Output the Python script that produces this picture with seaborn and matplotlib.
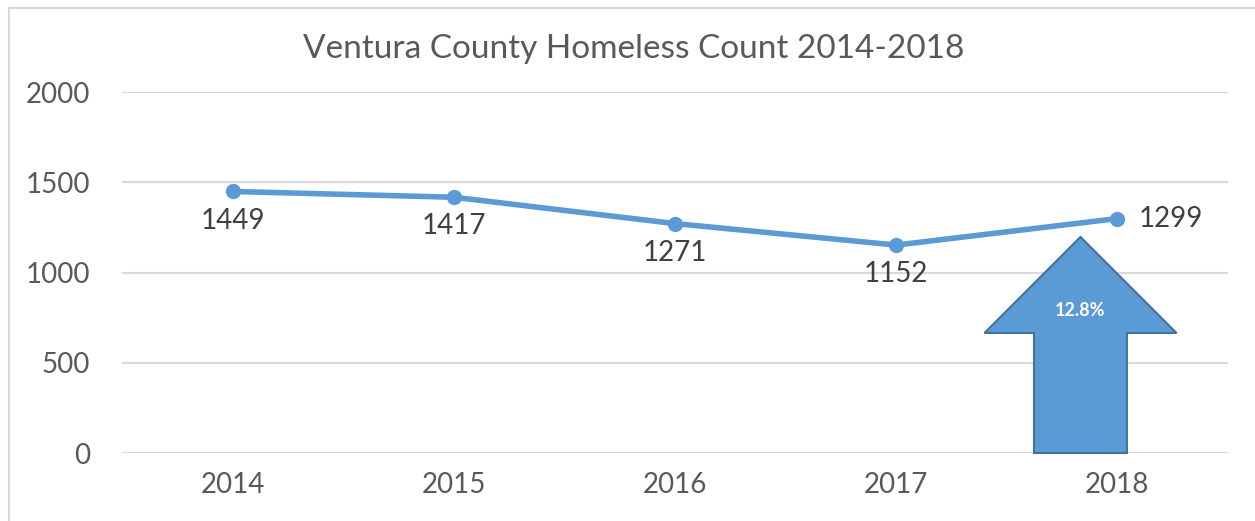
import matplotlib
matplotlib.use("Agg")
import matplotlib.pyplot as plt
from matplotlib.patches import Polygon
import seaborn as sns
import pandas as pd

# data
years = ["2014", "2015", "2016", "2017", "2018"]
counts = [1449, 1417, 1271, 1152, 1299]
change_label = "12.8%"
title = "Ventura County Homeless Count 2014-2018"

df = pd.DataFrame({"year": years, "count": counts})

sns.set_style("white")
plt.rcParams["font.family"] = ["Lato", "DejaVu Sans"]

blue = "#5B9BD5"
fig = plt.figure(figsize=(12.55, 5.21), dpi=100)
ax = fig.add_axes([0.0972, 0.1305, 0.8813, 0.6929])

sns.lineplot(data=df, x="year", y="count", ax=ax, color=blue, lw=4,
             marker="o", markersize=11, markeredgewidth=0, sort=False)

ax.set_xlim(-0.5, 4.5)
ax.set_ylim(0, 2000)
ax.set_yticks([0, 500, 1000, 1500, 2000])
ax.yaxis.grid(True, color="#D9D9D9", lw=1.5)
ax.set_axisbelow(True)
for s in ax.spines.values():
    s.set_visible(False)
ax.tick_params(axis="both", length=0, labelsize=20, labelcolor="#595959")
ax.tick_params(axis="y", pad=23)
ax.tick_params(axis="x", pad=14)
ax.set_xlabel("")
ax.set_ylabel("")

# data labels
for i, v in enumerate(counts):
    if i == len(counts) - 1:
        ax.annotate(str(v), (i, v), xytext=(15, 0), textcoords="offset points",
                    ha="left", va="center", fontsize=20, color="#404040")
    else:
        ax.annotate(str(v), (i, v), xytext=(0, -21), textcoords="offset points",
                    ha="center", va="center", fontsize=20, color="#404040")

# up arrow showing change
xc = len(years) - 1 - 0.167
arrow = Polygon([(xc - 0.21, 0), (xc + 0.21, 0), (xc + 0.21, 665),
                 (xc + 0.434, 665), (xc, 1197), (xc - 0.434, 665),
                 (xc - 0.21, 665)],
                closed=True, facecolor=blue, edgecolor="#41719C", lw=1.5,
                zorder=4, clip_on=False)
ax.add_patch(arrow)
ax.text(xc, 790, change_label, ha="center", va="center", color="white",
        fontsize=13, fontweight="bold", zorder=5)

fig.text(0.505, 0.905, title, ha="center", va="center", fontsize=24,
         color="#595959")

# chart border (left & top visible)
fig.add_artist(plt.Line2D([9 / 1255, 9 / 1255], [0, 1 - 8 / 521],
                          color="#D9D9D9", lw=1.5))
fig.add_artist(plt.Line2D([9 / 1255, 1], [1 - 8 / 521, 1 - 8 / 521],
                          color="#D9D9D9", lw=1.5))

fig.savefig("out.png", dpi=100)
